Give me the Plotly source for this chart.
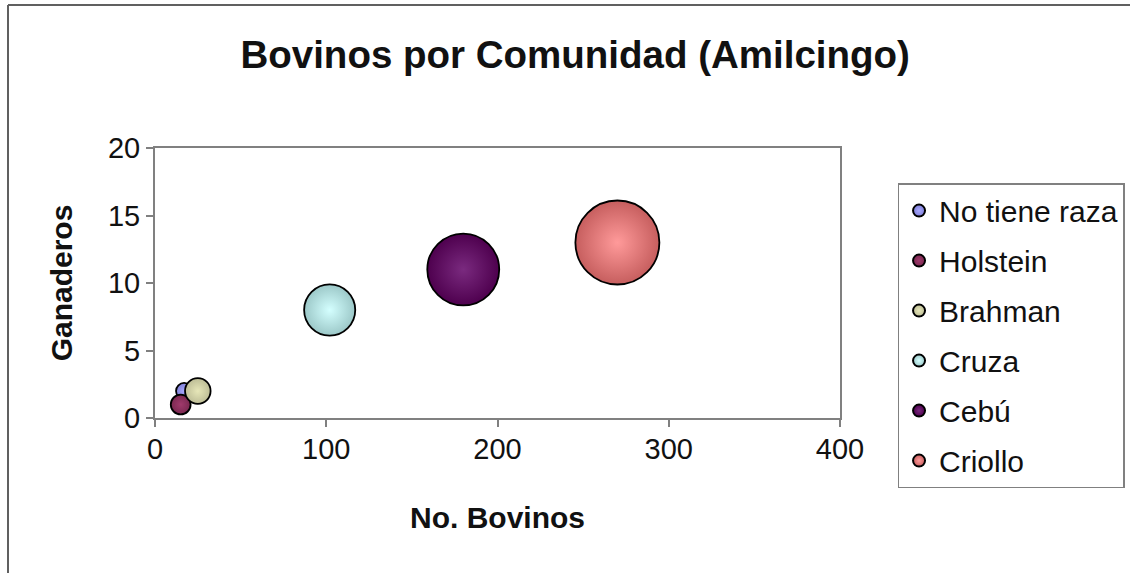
import plotly.graph_objects as go

# ---- data ----
razas = ["No tiene raza", "Holstein", "Brahman", "Cruza", "Cebú", "Criollo"]
bovinos = [17, 15, 25, 102, 180, 270]
ganaderos = [2, 1, 2, 8, 11, 13]
tamano = [10, 15, 25, 100, 198, 270]

# ---- styles ----
edge_colors = ["#7f7fd6", "#7a2850", "#bdbd96", "#9cc8c8", "#4e004e", "#c65e5e"]
center_colors = ["#a8a8ff", "#a03a6c", "#e6e6b8", "#d4ffff", "#7a2a7f", "#ff9a9a"]

max_diam = 84.0
sizeref = 2.0 * max(tamano) / (max_diam ** 2)

FONT = "Liberation Sans, Arial, sans-serif"

fig = go.Figure()
for i, name in enumerate(razas):
    fig.add_trace(go.Scatter(
        x=[bovinos[i]], y=[ganaderos[i]], name=name, mode="markers",
        legendgroup=name,
        marker=dict(size=[tamano[i]], sizemode="area", sizeref=sizeref,
                    color=edge_colors[i], opacity=1,
                    gradient=dict(type="radial", color=center_colors[i]),
                    line=dict(color="black", width=1.8)),
        cliponaxis=False,
    ))

axis_common = dict(showgrid=False, zeroline=False, showline=True,
                   linecolor="#808080", linewidth=2, mirror=True,
                   ticks="outside", ticklen=7, tickcolor="#808080", tickwidth=1.5,
                   tickfont=dict(family=FONT, size=29, color="#111"))

fig.update_xaxes(range=[0, 400], tickvals=[0, 100, 200, 300, 400],
                 ticklabelstandoff=-3,
                 title=dict(text="<b>No. Bovinos</b>", standoff=43,
                            font=dict(family=FONT, size=30, color="#111")),
                 **axis_common)
fig.update_yaxes(range=[0, 20], tickvals=[0, 5, 10, 15, 20],
                 title=dict(text="<b>Ganaderos</b>", standoff=26,
                            font=dict(family=FONT, size=30, color="#111")),
                 **axis_common)

# outer chart-area frame (left and top edges only, as in the reference crop)
fx0 = (8 - 155) / 685
fx1 = (1130 - 155) / 685
fy0 = -(573 - 418) / 270
fy1 = (418 - 5) / 270
frame_line = dict(color="#606060", width=2)

fig.update_layout(
    width=1130, height=573,
    margin=dict(l=155, r=290, t=148, b=155, autoexpand=False),
    paper_bgcolor="white", plot_bgcolor="white",
    title=dict(text="<b>Bovinos por Comunidad (Amilcingo)</b>",
               x=0.509, xanchor="center", y=0.905, yanchor="middle",
               font=dict(family=FONT, size=38.5, color="#111")),
    legend=dict(x=1.084, xanchor="left", y=0.87, yanchor="top",
                bordercolor="#808080", borderwidth=1.5, bgcolor="white",
                font=dict(family=FONT, size=30, color="#111"),
                itemsizing="constant", tracegroupgap=8, traceorder="grouped",
                maxheight=450),
    showlegend=True,
    shapes=[
        dict(type="line", xref="paper", yref="paper", x0=fx0, x1=fx0,
             y0=fy0, y1=fy1, line=frame_line, layer="below"),
        dict(type="line", xref="paper", yref="paper", x0=fx0, x1=fx1,
             y0=fy1, y1=fy1, line=frame_line, layer="below"),
    ],
)

fig.write_html("out.html", config={"displayModeBar": False},
               post_script="document.body.style.margin='0px';document.body.style.overflow='hidden';")
